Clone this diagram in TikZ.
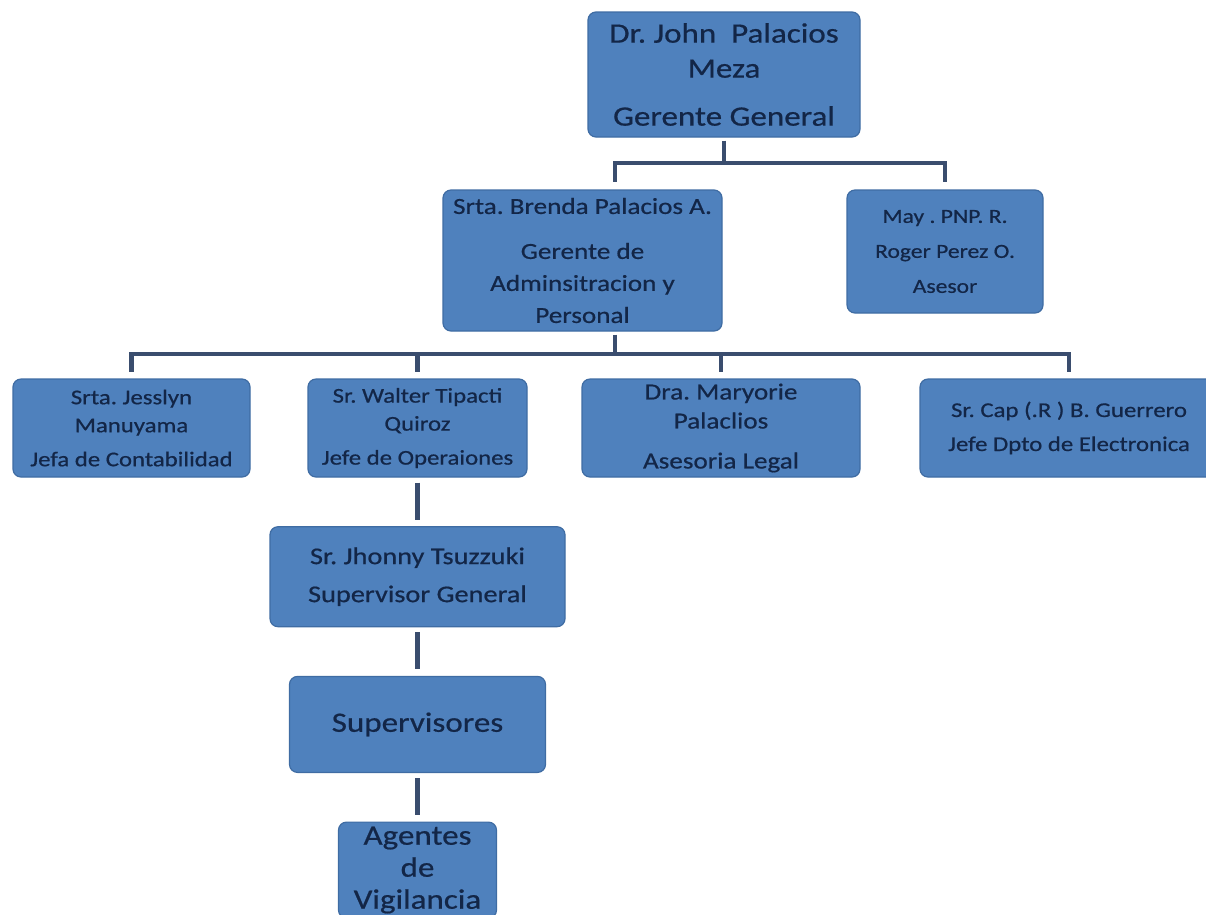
\documentclass[tikz,border=0pt]{standalone}
\usepackage{fontspec}
\setmainfont[FakeStretch=1.18, FakeBold=0.6]{Carlito}
\usetikzlibrary{positioning}

\definecolor{boxblue}{HTML}{4F81BD}
\definecolor{boxedge}{HTML}{3F6CA3}
\definecolor{ink}{HTML}{132647}
\definecolor{wire}{HTML}{3A4D6E}
\newcommand{\boxfont}[2]{\fontsize{#1}{#2}\selectfont}
\frenchspacing

\begin{document}
\begin{tikzpicture}[x=1pt, y=-1pt, node distance=48.5pt, b/.style={rectangle, rounded corners=8pt, draw=boxedge, line width=1.2pt, fill=boxblue, text=ink, align=center, inner sep=0pt}, s/.style={draw=wire, line width=4.5pt}]
	\useasboundingbox (0,0) rectangle (1206,914);
	\clip (0,0) rectangle (1206,914);

	\node[b, minimum width=272pt, minimum height=125pt, font=\boxfont{28}{35}] (gg) at (724,74.5) {Dr. John\ \ Palacios\\Meza\\[13pt]Gerente General};
	\node[b, minimum width=279pt, minimum height=141pt, font=\boxfont{23}{32}] (brenda) at (582.5,260.5) {Srta. Brenda Palacios A.\\[13pt]Gerente de\\Adminsitracion y\\Personal};
	\node[b, minimum width=196pt, minimum height=123pt, font=\boxfont{20}{25}] (may) at (945,251.5) {May . PNP. R.\\[10pt]Roger Perez O.\\[10pt]Asesor};

	\node[b, minimum width=237pt, minimum height=98pt, font=\boxfont{21}{28}] (jesslyn) at (131.5,428) {Srta. Jesslyn\\Manuyama\\[6pt]Jefa de Contabilidad};
	\node[b, minimum width=219pt, minimum height=98pt, font=\boxfont{21}{28}] (walter) at (417.5,428) {Sr. Walter Tipacti\\Quiroz\\[6pt]Jefe de Operaiones};
	\node[b, minimum width=278pt, minimum height=98pt, font=\boxfont{23}{29}] (maryorie) at (721,428) {Dra. Maryorie\\Palaclios\\[11pt]Asesoria Legal};
	\node[b, minimum width=298pt, minimum height=98pt, font=\boxfont{21}{28}] (guerrero) at (1069,428) {Sr. Cap (.R ) B. Guerrero\\[6pt]Jefe Dpto de Electronica};

	\node[b, minimum width=295pt, minimum height=100pt, font=\boxfont{24}{30}, below=of walter] (jhonny) {Sr. Jhonny Tsuzzuki\\[8pt]Supervisor General};
	\node[b, minimum width=256pt, minimum height=96pt, font=\boxfont{28}{34}, below=of jhonny] (sup) {Supervisores};
	\node[b, minimum width=158pt, minimum height=96pt, font=\boxfont{28}{32}, below=of sup] (ag) {Agentes\\de\\Vigilancia};

	% gerencia general
	\coordinate (t) at (724,163);
	\draw[s, shorten <=3pt] (gg.south) -- (t);
	\draw[s, shorten >=7pt] (t) -| ([xshift=32.5pt]brenda.north);
	\draw[s, shorten >=7pt] (t) -| (may.north);

	% jefaturas
	\coordinate (m) at (615,354);
	\draw[s, shorten <=3pt] ([xshift=32.5pt]brenda.south) -- (m);
	\draw[s, shorten >=6pt] (m) -| (jesslyn.north);
	\draw[s, shorten >=6pt] (m) -| (walter.north);
	\draw[s, shorten >=6pt] (m) -| (maryorie.north);
	\draw[s, shorten >=6pt] (m) -| (guerrero.north);

	% operaciones
	\draw[s, shorten <=5pt, shorten >=6.5pt] (walter) -- (jhonny);
	\draw[s, shorten <=5pt, shorten >=6.5pt] (jhonny) -- (sup);
	\draw[s, shorten <=5pt, shorten >=6.5pt] (sup) -- (ag);
\end{tikzpicture}
\end{document}
